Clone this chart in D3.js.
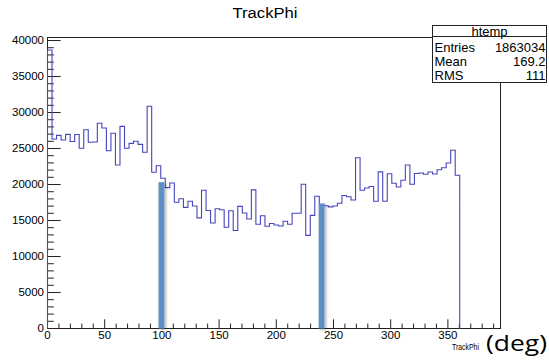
<!DOCTYPE html>
<html><head><meta charset="utf-8">
<script src="https://cdn.jsdelivr.net/npm/d3@7"></script>
<style>body{margin:0;background:#fff;} svg{display:block;}</style>
</head><body>
<svg id="c" width="549" height="361"></svg>
<script>
// ---- data ----
const chartTitle = "TrackPhi";
const xAxisTitle = "TrackPhi";
const unitNote = "(deg)";
const binLow = 0;
const binWidth = 3.96;
const nBins = 100;
const counts = [
  38680,26320,26830,26180,26960,25970,26940,25040,27610,25860,
  25900,28500,27850,24680,27110,22710,28080,25040,25720,26000,
  25580,24490,30880,21710,22610,20880,19570,20210,17540,18030,
  16830,17670,17010,15360,19210,16390,14650,16640,16490,14070,
  16360,13610,16970,16040,15210,19260,14490,15670,14210,14580,
  14380,14240,14900,14490,16000,16000,20040,12940,15720,18380,
  17260,17040,16900,17010,17390,18470,18310,17850,23710,19210,
  19510,19720,17680,21760,17680,21500,20180,19650,20600,22710,
  20030,21530,21600,21420,21740,21460,22060,22330,22990,24750,
  21280
];
const xMajorTicks = [0,50,100,150,200,250,300,350];
const yMajorTicks = [0,5000,10000,15000,20000,25000,30000,35000,40000];
const statName = "htemp";
const statLabels = ["Entries","Mean","RMS"];
const statValues = ["1863034","169.2","111"];
const markerPhi = [100, 240];
const markerTop = [20250, 17260];
const markerHalfWidth = 2.5;

// ---- layout ----
const svg = d3.select("#c");
const xMax = binLow + nBins * binWidth;
const x = d3.scaleLinear().domain([binLow, xMax]).range([47, 500]);
const y = d3.scaleLinear().domain([0, 40420]).range([328, 37]);
const font = "'Liberation Sans', Arial, Helvetica, sans-serif";

const defs = svg.append("defs");
const f = defs.append("filter").attr("id","sh").attr("x","-100%").attr("y","-10%").attr("width","300%").attr("height","120%");
f.append("feDropShadow").attr("dx",1.5).attr("dy",1).attr("stdDeviation",1.4)
  .attr("flood-color","#000").attr("flood-opacity",0.35);

// frame
svg.append("rect").attr("x",47.5).attr("y",37.5).attr("width",453).attr("height",291)
  .attr("fill","none").attr("stroke","#222").attr("stroke-width",1);

// axes
const yMinor = d3.range(0, 40001, 1000).filter(v => v % 5000 !== 0);
const xMinor = d3.range(0, 391, 10).filter(v => v % 50 !== 0);

const gy = svg.append("g").attr("transform","translate(47,0)");
gy.call(d3.axisLeft(y).tickValues(yMinor).tickSize(-6.8).tickFormat(""));
gy.call(g => g.select(".domain").remove());
const gy2 = svg.append("g").attr("transform","translate(47,0)");
gy2.call(d3.axisLeft(y).tickValues(yMajorTicks).tickSize(-13.6).tickPadding(3).tickFormat(d3.format("d")));
gy2.select(".domain").remove();

const gx = svg.append("g").attr("transform","translate(0,328)");
gx.call(d3.axisBottom(x).tickValues(xMinor).tickSize(-4.4).tickFormat(""));
gx.select(".domain").remove();
const gx2 = svg.append("g").attr("transform","translate(0,328)");
gx2.call(d3.axisBottom(x).tickValues(xMajorTicks).tickSize(-8.7).tickPadding(4).tickFormat(d3.format("d")));
gx2.select(".domain").remove();

svg.selectAll(".tick line").attr("stroke","#222");
[gy2, gx2].forEach(g => {
  g.attr("font-family", font).attr("font-size", 10.2);
  g.selectAll("text").attr("fill","#000")
    .attr("textLength", d => String(d).length * 6.4)
    .attr("lengthAdjust","spacingAndGlyphs");
});

// histogram outline
const pts = [[binLow, 0]];
counts.forEach((c, i) => {
  pts.push([binLow + i * binWidth, c]);
  pts.push([binLow + (i + 1) * binWidth, c]);
});
pts.push([binLow + counts.length * binWidth, 0]);
svg.append("path")
  .attr("d", d3.line().x(d => x(d[0]) + 0.5).y(d => y(d[1]) + 0.5)(pts))
  .attr("fill","none").attr("stroke","#4646be").attr("stroke-width",1.1);

// annotation markers
svg.selectAll("rect.mk").data(markerPhi).join("rect").attr("class","mk")
  .attr("x", d => x(d - markerHalfWidth))
  .attr("width", d => x(d + markerHalfWidth) - x(d - markerHalfWidth))
  .attr("y", (d, i) => y(markerTop[i]))
  .attr("height", (d, i) => y(0) + 0.5 - y(markerTop[i]))
  .attr("fill","#5b8fc8").attr("filter","url(#sh)");

// title
svg.append("text").attr("x",265).attr("y",18).attr("text-anchor","middle")
  .attr("font-family",font).attr("font-size",14)
  .attr("textLength",65).attr("lengthAdjust","spacingAndGlyphs")
  .text(chartTitle);

// x axis title and unit note
svg.append("text").attr("x",452).attr("y",350)
  .attr("font-family",font).attr("font-size",9)
  .attr("textLength",27).attr("lengthAdjust","spacingAndGlyphs")
  .text(xAxisTitle);
svg.append("text").attr("x",486).attr("y",351)
  .attr("font-family","'Open Sans', 'Noto Sans', sans-serif").attr("font-size",22)
  .attr("textLength",61).attr("lengthAdjust","spacingAndGlyphs")
  .text(unitNote);

// stat box
const sb = svg.append("g").attr("font-family",font).attr("font-size",13).attr("fill","#000");
sb.append("rect").attr("x",432.5).attr("y",25.5).attr("width",114).attr("height",57)
  .attr("fill","#fff").attr("stroke","#222");
sb.append("line").attr("x1",432.5).attr("x2",546.5).attr("y1",36.5).attr("y2",36.5).attr("stroke","#222");
sb.append("text").attr("x",489.5).attr("y",35.5).attr("text-anchor","middle").text(statName);
statLabels.forEach((l, i) => {
  const by = 51.5 + i * 14.2;
  sb.append("text").attr("x",434.5).attr("y",by).text(l);
  sb.append("text").attr("x",545.5).attr("y",by).attr("text-anchor","end").text(statValues[i]);
});
</script>
</body></html>
